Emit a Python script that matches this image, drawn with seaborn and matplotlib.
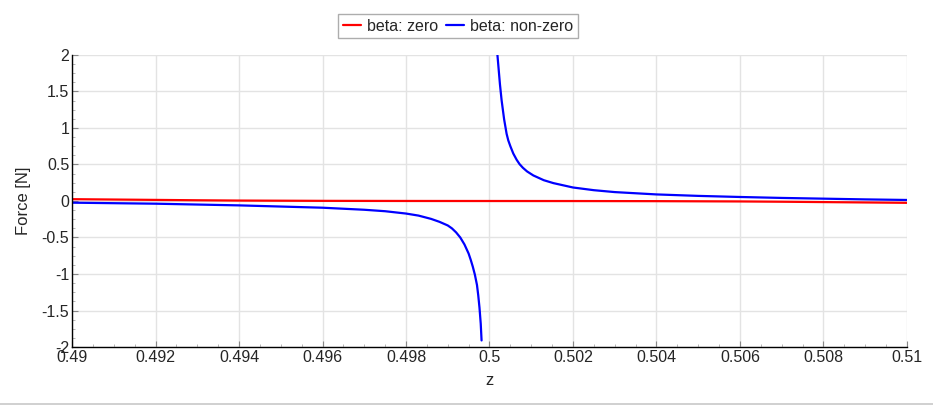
import numpy as np
import pandas as pd
import matplotlib
matplotlib.use("Agg")
import matplotlib.pyplot as plt
from matplotlib.ticker import MultipleLocator, FuncFormatter
from matplotlib.lines import Line2D
import seaborn as sns

# ---- data ----
red_z = [0.490, 0.491, 0.492, 0.493, 0.494, 0.496, 0.498, 0.500, 0.502, 0.504,
         0.506, 0.507, 0.508, 0.509, 0.510]
red_f = [0.025, 0.020, 0.015, 0.010, 0.006, 0.002, 0.0005, 0.0, -0.0005, -0.002,
         -0.006, -0.010, -0.015, -0.020, -0.025]

blue_left_z = [0.4900, 0.4920, 0.4940, 0.4960, 0.4970, 0.4975, 0.4980, 0.4983,
               0.4986, 0.4988, 0.4990, 0.4991, 0.4992, 0.4993, 0.4994, 0.4995,
               0.49955, 0.49960, 0.49965, 0.49970, 0.49973, 0.49976, 0.49979,
               0.49981]
blue_left_f = [-0.023, -0.037, -0.060, -0.092, -0.120, -0.140, -0.172, -0.200,
               -0.245, -0.285, -0.335, -0.375, -0.430, -0.500, -0.595, -0.720,
               -0.805, -0.900, -1.010, -1.150, -1.290, -1.460, -1.680, -1.910]

blue_right_z = [0.50019, 0.50022, 0.50025, 0.50029, 0.50035, 0.50041, 0.50045,
                0.50050, 0.50057, 0.50065, 0.50072, 0.50080, 0.50090, 0.50105,
                0.50130, 0.50153, 0.50200, 0.50250, 0.50300, 0.50400, 0.50500,
                0.50600, 0.50700, 0.50800, 0.50900, 0.51000]
blue_right_f = [2.00, 1.80, 1.60, 1.38, 1.12, 0.92, 0.83, 0.75, 0.65, 0.565,
                0.505, 0.455, 0.405, 0.350, 0.285, 0.245, 0.185, 0.148, 0.122,
                0.090, 0.070, 0.055, 0.042, 0.032, 0.022, 0.014]

series_names = ["beta: zero", "beta: non-zero"]
series_colors = ["#ff0000", "#0000ff"]
x_label = "z"
y_label = "Force [N]"

# ---- build table ----
df = pd.concat([
    pd.DataFrame({"z": red_z, "F": red_f, "series": series_names[0], "branch": 0}),
    pd.DataFrame({"z": blue_left_z, "F": blue_left_f, "series": series_names[1], "branch": 1}),
    pd.DataFrame({"z": blue_right_z, "F": blue_right_f, "series": series_names[1], "branch": 2}),
], ignore_index=True)

sns.set_style("white")
plt.rcParams["font.family"] = ["Liberation Sans", "DejaVu Sans"]

fig = plt.figure(figsize=(9.33, 4.07), dpi=100)
ax = fig.add_axes([0.0772, 0.1474, 0.8949, 0.7175])

sns.lineplot(data=df, x="z", y="F", hue="series", units="branch", estimator=None,
             sort=False, palette=dict(zip(series_names, series_colors)),
             linewidth=1.6, ax=ax, legend=False)

ax.set_xlim(0.49, 0.51)
ax.set_ylim(-2, 2)
ax.xaxis.set_major_locator(MultipleLocator(0.002))
ax.xaxis.set_minor_locator(MultipleLocator(0.0005))
ax.yaxis.set_major_locator(MultipleLocator(0.5))
ax.yaxis.set_minor_locator(MultipleLocator(0.125))
fmt = FuncFormatter(lambda v, p: "%g" % round(v, 6))
ax.xaxis.set_major_formatter(fmt)
ax.yaxis.set_major_formatter(fmt)

ax.grid(True, which="major", color="#e3e3e3", linewidth=1.0)
ax.set_axisbelow(True)
for s in ["top", "right"]:
    ax.spines[s].set_visible(False)
for s in ["left", "bottom"]:
    ax.spines[s].set_color("black")
    ax.spines[s].set_linewidth(1.0)

ax.tick_params(axis="both", which="major", labelsize=11.5, length=4,
               direction="in", color="#888888", pad=2, left=True, bottom=True)
ax.tick_params(axis="both", which="minor", length=2.5, direction="in",
               color="#aaaaaa", left=True, bottom=True)

ax.set_xlabel(x_label, fontsize=12, labelpad=6)
ax.set_ylabel(y_label, fontsize=12, labelpad=8)

handles = [Line2D([0], [0], color=c, lw=1.6) for c in series_colors]
leg = fig.legend(handles, series_names, loc="center", bbox_to_anchor=(0.491, 0.936),
                 ncol=2, frameon=True, fancybox=False, fontsize=11.5,
                 handlelength=1.15, handletextpad=0.35, columnspacing=0.5,
                 borderpad=0.3, edgecolor="#999999")
leg.get_frame().set_linewidth(1.0)

fig.add_artist(Line2D([0, 1], [0.008, 0.008], transform=fig.transFigure,
                      color="#c8c8c8", lw=1.2))

fig.savefig("out.png", dpi=100, facecolor="white")
